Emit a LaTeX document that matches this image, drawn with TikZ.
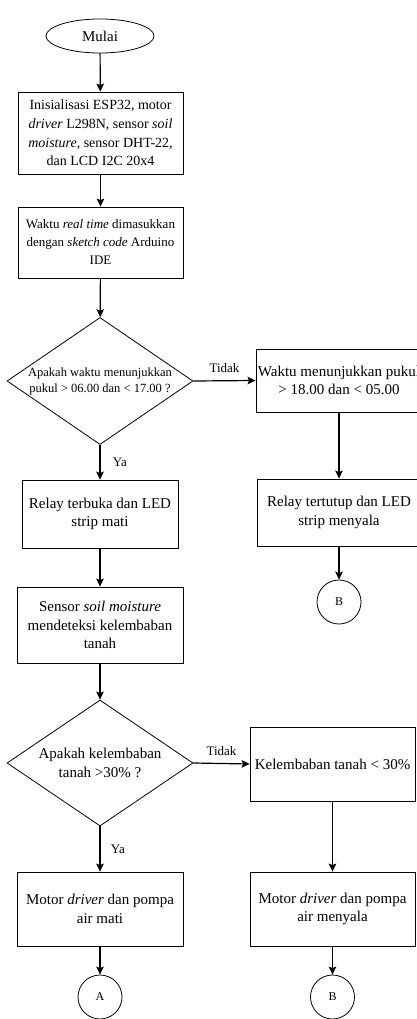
\documentclass[tikz,border=0pt]{standalone}
\usepackage{fontspec}
\setmainfont{Liberation Serif}
\usetikzlibrary{arrows.meta,shapes.geometric}

\begin{document}
\begin{tikzpicture}[
        %We set the units and define some styles
        x=1pt, y=-1pt,
        terminal/.style={draw, ellipse, line width=0.8pt, inner sep=0pt, minimum width=108pt, minimum height=34pt, font=\fontsize{15}{18}\selectfont},
        proses/.style={draw, rectangle, line width=0.8pt, align=center, inner sep=2pt, font=\fontsize{15}{18.5}\selectfont},
        keputusan/.style={draw, diamond, aspect=1.46, line width=0.8pt, inner sep=-3pt, align=center, minimum width=186pt, minimum height=127pt, font=\fontsize{15}{19}\selectfont},
        konektor/.style={draw, circle, line width=0.8pt, minimum size=44pt, inner sep=0pt, font=\fontsize{12}{14}\selectfont},
        panah/.style={line width=1.2pt, ->, >={Stealth[length=8pt, width=7.5pt, inset=1.5pt]}},
        jawab/.style={font=\fontsize{13}{15}\selectfont}
     ]
\useasboundingbox (0,0) rectangle (417,1019);
% Left column
    \node[terminal] (mulai) at (100,36) {Mulai};
    \node[proses, minimum width=165pt, minimum height=82pt, font=\fontsize{14}{18.8}\selectfont] (inisial) at (100.5,133)
        {Inisialisasi ESP32, motor\\ \textit{driver} L298N, sensor \textit{soil}\\ \textit{moisture}, sensor DHT-22,\\ dan LCD I2C 20x4};
    \node[proses, minimum width=165pt, minimum height=71pt, font=\fontsize{13}{18}\selectfont] (waktu) at (100.5,242.5)
        {Waktu \textit{real time} dimasukkan\\ dengan \textit{sketch code} Arduino\\ IDE};
    \node[keputusan, font=\fontsize{12.5}{16}\selectfont] (cekwaktu) at (100,381)
        {Apakah waktu menunjukkan\\ pukul > 06.00 dan < 17.00 ?};
    \node[proses, minimum width=156pt, minimum height=68pt] (relaybuka) at (100,514)
        {Relay terbuka dan LED\\ strip mati};
    \node[proses, minimum width=166pt, minimum height=76pt] (sensor) at (100,625)
        {Sensor \textit{soil moisture}\\ mendeteksi kelembaban\\ tanah};
    \node[keputusan, minimum height=126pt] (cektanah) at (100,763)
        {Apakah kelembaban\\ tanah >30\% ?};
    \node[proses, minimum width=166pt, minimum height=74pt] (pompamati) at (100,909)
        {Motor \textit{driver} dan pompa\\ air mati};
    \node[konektor] (conA) at (100,997) {A};
% Right column
    \node[proses, minimum width=164pt, minimum height=63pt] (malam) at (339,380.5)
        {Waktu menunjukkan pukul\\ > 18.00 dan < 05.00};
    \node[proses, minimum width=164pt, minimum height=67pt] (relaytutup) at (339,512.5)
        {Relay tertutup dan LED\\ strip menyala};
    \node[konektor] (conB) at (339,602) {B};
    \node[proses, minimum width=165pt, minimum height=74pt] (kering) at (332.5,764)
        {Kelembaban tanah < 30\%};
    \node[proses, minimum width=165pt, minimum height=74pt] (pompanyala) at (332.5,909)
        {Motor \textit{driver} dan pompa\\ air menyala};
    \node[konektor] (conB2) at (332.5,997) {B};
% Arrows
    \draw[panah] (mulai) -- (inisial);
    \draw[panah] (inisial) -- (waktu);
    \draw[panah] (waktu) -- (cekwaktu);
    \draw[panah] (cekwaktu) -- node[jawab, right, xshift=9pt] {Ya} (relaybuka);
    \draw[panah] (cekwaktu.east) -- node[jawab, above, yshift=4pt] {Tidak} (malam.west);
    \draw[panah] (malam) -- (relaytutup);
    \draw[panah] (relaytutup) -- (conB);
    \draw[panah] (relaybuka) -- (sensor);
    \draw[panah] (sensor) -- (cektanah);
    \draw[panah] (cektanah) -- node[jawab, right, xshift=7pt] {Ya} (pompamati);
    \draw[panah] (cektanah.east) -- node[jawab, above, yshift=4pt] {Tidak} (kering.west);
    \draw[panah] (kering) -- (pompanyala);
    \draw[panah] (pompanyala) -- (conB2);
    \draw[panah] (pompamati) -- (conA);
\end{tikzpicture}
\end{document}
